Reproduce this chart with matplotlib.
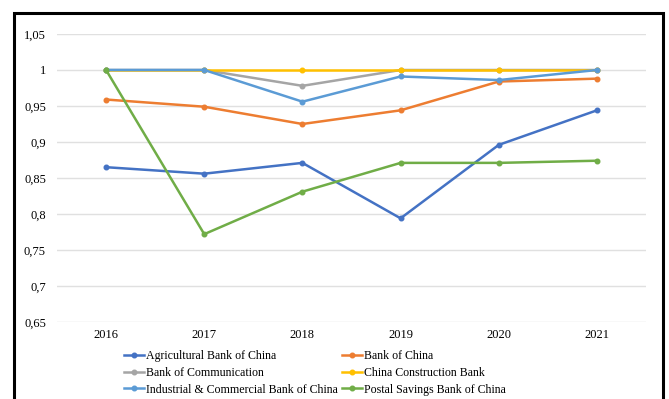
import matplotlib
matplotlib.use("Agg")
import matplotlib.pyplot as plt
from matplotlib.patches import Rectangle

plt.rcParams['font.family'] = ['Liberation Serif', 'DejaVu Serif']

years = ["2016", "2017", "2018", "2019", "2020", "2021"]
agricultural = [0.865, 0.856, 0.871, 0.794, 0.896, 0.944]
bank_of_china = [0.959, 0.949, 0.925, 0.944, 0.984, 0.988]
communication = [1.0, 1.0, 0.978, 1.0, 1.0, 1.0]
construction = [1.0, 1.0, 1.0, 1.0, 1.0, 1.0]
icbc = [1.0, 1.0, 0.956, 0.991, 0.986, 1.0]
postal = [1.0, 0.772, 0.831, 0.871, 0.871, 0.874]

series = [
    ("Agricultural Bank of China", agricultural, "#4472C4"),
    ("Bank of China", bank_of_china, "#ED7D31"),
    ("Bank of Communication", communication, "#A5A5A5"),
    ("China Construction Bank", construction, "#FFC000"),
    ("Industrial & Commercial Bank of China", icbc, "#5B9BD5"),
    ("Postal Savings Bank of China", postal, "#70AD47"),
]
yticks = [0.65, 0.7, 0.75, 0.8, 0.85, 0.9, 0.95, 1.0, 1.05]
ytick_labels = ["0,65", "0,7", "0,75", "0,8", "0,85", "0,9", "0,95", "1", "1,05"]

W, H = 669, 399
fig = plt.figure(figsize=(W / 100, H / 100), dpi=100)
ax = fig.add_axes([57 / W, (H - 322) / H, (646 - 57) / W, (322 - 34) / H])

# рамка вокруг всего графика
fig.patches.append(Rectangle((14 / W, -0.1), (663 - 14) / W, (H - 13) / H + 0.1,
                             transform=fig.transFigure, fill=False,
                             edgecolor="black", linewidth=2.2))

x = list(range(len(years)))
lines = {}
for name, vals, color in series:
    ln, = ax.plot(x, vals, color=color, linewidth=1.8, marker="o",
                  markersize=3.3, label=name)
    lines[name] = ln

ax.set_xlim(-0.5, len(years) - 0.5)
ax.set_ylim(0.65, 1.05)
ax.set_xticks(x)
ax.set_xticklabels(years)
ax.set_yticks(yticks)
ax.set_yticklabels(ytick_labels)
ax.tick_params(length=0, labelsize=9)
ax.tick_params(axis="x", pad=5)
ax.tick_params(axis="y", pad=8)
ax.grid(axis="y", color="#E0E0E0", linewidth=1)
ax.set_axisbelow(True)
for s in ax.spines.values():
    s.set_visible(False)

order = [0, 2, 4, 1, 3, 5]
names = [series[i][0] for i in order]
fig.legend([lines[n] for n in names], names, ncol=2, frameon=False,
           loc="upper left", bbox_to_anchor=(118 / W, 1 - 344 / H),
           fontsize=8.6, handlelength=1.7, handletextpad=0.15,
           columnspacing=0.3, labelspacing=0.4, borderpad=0)

fig.savefig("out.png", dpi=100)
